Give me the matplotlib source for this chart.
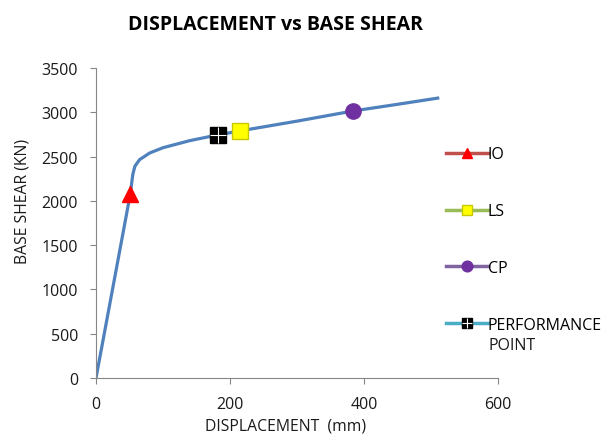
import matplotlib
matplotlib.use('Agg')
import matplotlib.pyplot as plt

# pushover curve
disp = [0, 51, 55, 58, 65, 80, 100, 140, 182, 215, 300, 384, 450, 510]
shear = [0, 2070, 2300, 2390, 2465, 2540, 2600, 2680, 2745, 2790, 2900, 3015, 3090, 3160]

# performance levels
io = (51, 2075)
ls = (215, 2790)
cp = (384, 3015)
pp = (182, 2745)

plt.rcParams['font.family'] = ['Open Sans', 'DejaVu Sans']

fig = plt.figure(figsize=(6.16, 4.39), dpi=100)
ax = fig.add_axes([96 / 616, 60 / 439, 402 / 616, 310 / 439])

ax.plot(disp, shear, color='#4F81BD', lw=2.3, zorder=2)

h_io, = ax.plot([io[0]], [io[1]], color='#C0504D', lw=2.5, marker='^', ms=11,
                mfc='#FF0000', mec='#FF0000', linestyle='-', zorder=3)
h_ls, = ax.plot([ls[0]], [ls[1]], color='#9BBB59', lw=2.5, marker='s', ms=11,
                mfc='#FFFF00', mec='#C8C800', linestyle='-', zorder=3)
h_cp, = ax.plot([cp[0]], [cp[1]], color='#8064A2', lw=2.5, marker='o', ms=11,
                mfc='#7030A0', mec='#7030A0', linestyle='-', zorder=3)
h_pp, = ax.plot([pp[0]], [pp[1]], color='#4BACC6', lw=2.5, marker='s', ms=11,
                mfc='black', mec='black', linestyle='-', zorder=3)
h_pp2, = ax.plot([pp[0]], [pp[1]], linestyle='none', marker='+', ms=11,
                 mew=0.8, color='white', zorder=4)

ax.set_xlim(0, 600)
ax.set_ylim(0, 3500)
ax.set_xticks(range(0, 601, 200))
ax.set_yticks(range(0, 3501, 500))
for s in ['top', 'right']:
    ax.spines[s].set_visible(False)
for s in ['left', 'bottom']:
    ax.spines[s].set_color('#868686')
ax.tick_params(direction='out', length=4, color='#868686', labelsize=11.5,
               labelcolor='#1a1a1a')
ax.tick_params(axis='x', pad=9)
ax.tick_params(axis='y', pad=9)

ax.set_xlabel('DISPLACEMENT  (mm)', fontsize=11.3, color='#1a1a1a')
ax.set_ylabel('BASE SHEAR (KN)', fontsize=11.3, color='#1a1a1a')
ax.xaxis.set_label_coords((286 - 96) / 402, (379 - 419) / 310)
ax.yaxis.set_label_coords((31 - 96) / 402, (379 - 201) / 310)
fig.text(275 / 616, 1 - 25 / 439, 'DISPLACEMENT vs BASE SHEAR', ha='center',
         va='center', fontsize=14, fontweight='bold')

fig.legend([h_io, h_ls, h_cp, (h_pp, h_pp2)], ['IO', 'LS', 'CP', 'PERFORMANCE'],
           loc='upper left', bbox_to_anchor=(440 / 616, 1 - 141 / 439),
           frameon=False, fontsize=11.5, markerscale=0.7, handlelength=2.6,
           handletextpad=0.0, labelspacing=2.55, borderaxespad=0)
fig.text(488 / 616, 1 - 346 / 439, 'POINT', ha='left', va='center', fontsize=11.5,
         color='#1a1a1a')

fig.savefig('out.png', dpi=100)
